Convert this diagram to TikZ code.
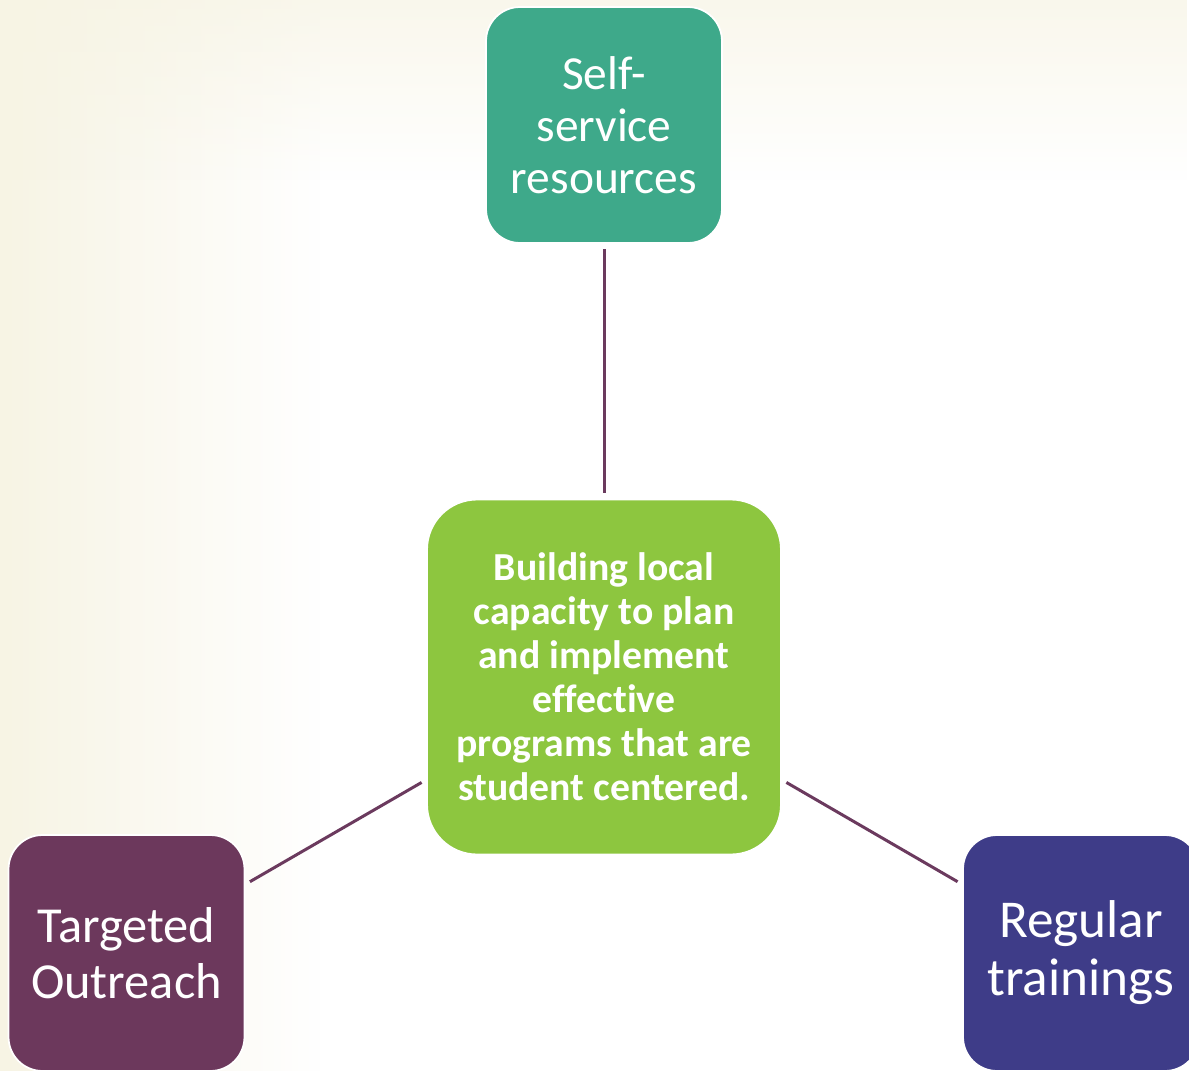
\documentclass[tikz,border=0pt]{standalone}
\usepackage{fontspec}
\setmainfont[Ligatures=NoCommon]{Carlito}
\usetikzlibrary{fadings}

\definecolor{cream}{RGB}{247,244,228}
\definecolor{selfgreen}{RGB}{62,169,138}
\definecolor{hubgreen}{RGB}{141,198,63}
\definecolor{reachplum}{RGB}{108,56,92}
\definecolor{trainblue}{RGB}{62,60,136}
\definecolor{linkplum}{RGB}{107,58,94}

\tikzset{
    box/.style={rectangle, rounded corners=0.68cm, draw=white, line width=1pt,
        text=white, align=center, inner sep=0pt,
        minimum width=4.72cm, minimum height=4.72cm,
        font=\fontsize{27}{29.6}\selectfont},
    sidebox/.style={box, font=\fontsize{28.7}{31.9}\selectfont},
    hubbox/.style={box, rounded corners=1cm,
        minimum width=7.08cm, minimum height=7.1cm,
        font=\bfseries\fontsize{22.6}{25}\selectfont},
    link/.style={draw=linkplum, line width=1.7pt, shorten <=3pt, shorten >=3pt}
}

\begin{document}
\begin{tikzpicture}[x=0.02cm, y=-0.02cm]
                      \clip (0,0) rectangle (1189,1071);
                      % background
                      \fill[white] (0,0) rectangle (1189,1071);
                      \fill[cream, path fading=east] (0,0) rectangle (320,1071);
                      \fill[cream, path fading=south, opacity=0.7] (0,0) rectangle (1189,180);

                      \node[box, fill=selfgreen] (self) at (604,125) {Self-\\service\\resources};
                      \node[hubbox, fill=hubgreen] (hub) at (604,677)
                          {Building local\\capacity to plan\\and implement\\effective\\programs that are\\student centered.};
                      \node[sidebox, fill=reachplum] (reach) at (126.5,953) {Targeted\\Outreach};
                      \node[sidebox, fill=trainblue, font=\fontsize{30.3}{33}\selectfont] (train) at (1081,953) {Regular\\trainings};

                      \draw[link] (self) -- (hub);
                      \draw[link] (hub) -- (reach);
                      \draw[link] (hub) -- (train);

                  \end{tikzpicture}
\end{document}
